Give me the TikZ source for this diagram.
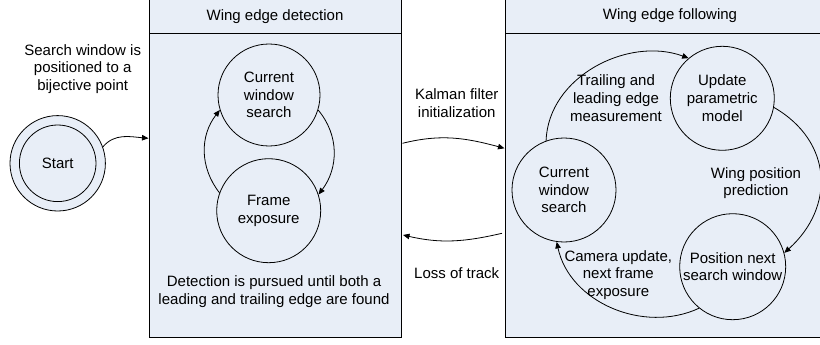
\documentclass[tikz,border=0pt]{standalone}
\usepackage{fontspec}
\setmainfont{Liberation Sans}
\usetikzlibrary{arrows.meta}
\definecolor{paneblue}{HTML}{E8EEF7}
\tikzset{
  panel/.style={draw, fill=paneblue, line width=0.8pt},
  state/.style={circle, draw, fill=paneblue, line width=0.8pt, inner sep=0pt,
                align=center, font=\fontsize{15}{17.7}\selectfont},
  lbl/.style={align=center, inner sep=0pt, font=\fontsize{15}{17.7}\selectfont},
  flow/.style={draw, line width=0.8pt, -{Triangle[length=6.5pt,width=5.5pt]}},
}
\begin{document}
\begin{tikzpicture}[x=1pt,y=-1pt]
\useasboundingbox (0,0) rectangle (820,345);

% two state panels with title bars (tops and right side run past the page edge)
\draw[panel] (149.5,-3) rectangle (401.7,337);
\draw[line width=0.8pt] (149.5,33.5) -- (401.7,33.5);
\node[lbl] (dettitle) at (275,17) {Wing edge detection};

\draw[panel] (505.7,-3) rectangle (824,337);
\draw[line width=0.8pt] (505.7,33.5) -- (824,33.5);
\node[lbl] (foltitle) at (670,16) {Wing edge following};

% start state
\node[state, minimum size=95.4pt] (startout) at (57.7,163.3) {};
\node[state, minimum size=76.6pt] (start) at (57.7,163.3) {Start};
\node[lbl] (startlbl) at (82.7,69) {Search window is\\positioned to a\\bijective point};

% detection loop
\node[state, minimum size=102pt] (cwa) at (269,95) {Current\\window\\search};
\node[state, minimum size=104pt] (fea) at (268.7,210.7) {Frame\\exposure};
\node[lbl] (detnote) at (274,291.5) {Detection is pursued until both a\\leading and trailing edge are found};

% following loop
\node[state, minimum size=104pt] (cwb) at (564,190) {Current\\window\\search};
\node[state, minimum size=104pt] (upd) at (722.3,98.3) {Update\\parametric\\model};
\node[state, minimum size=106pt] (pos) at (732.7,266.7) {Position next\\search window};

\node[lbl] (measlbl) at (616,98.3) {Trailing and\\leading edge\\measurement};
\node[lbl] (predlbl) at (756,183) {Wing position\\prediction};
\node[lbl] (camlbl) at (618.3,275) {Camera update,\\next frame\\exposure};

% transitions between panels
\coordinate (startin) at (148.5,138.3);
\coordinate (kalout) at (402.5,143.3);
\coordinate (kalin) at (504.5,148.3);
\coordinate (lossout) at (502,233.3);
\coordinate (lossin) at (403,235);
\node[lbl] (kallbl) at (456.7,103) {Kalman filter\\initialization};
\node[lbl] (losslbl) at (456.7,272.7) {Loss of track};

\draw[flow] (startout.20) to[out=50,in=175] (startin);
\draw[flow] (kalout) to[out=14,in=165] (kalin);
\draw[flow] (lossout) to[out=193,in=-13] (lossin);

% detection loop arcs
\draw[flow] (fea.160) to[out=128,in=232] (cwa.197);
\draw[flow] (cwa.-17) to[out=-50,in=53] (fea.18);

% following loop arcs
\draw[flow] (cwb.110) to[out=88,in=160] (upd.130);
\draw[flow] (upd.-10) to[out=-30,in=42,looseness=1.2] (pos.15);
\draw[flow] (pos.231) to[out=205,in=-78] (cwb.262);
\end{tikzpicture}
\end{document}
